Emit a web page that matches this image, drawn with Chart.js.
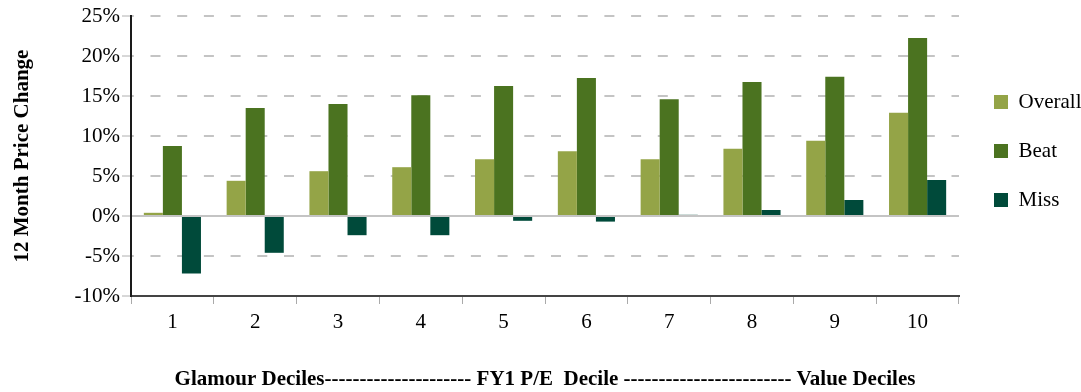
<!DOCTYPE html>
<html lang="en">
<head>
    <meta charset="UTF-8" />
    <title>12 Month Price Change by FY1 P/E Decile</title>
    <script src="https://cdn.jsdelivr.net/npm/chart.js"></script>
    <style>
        body { margin: 0; background: #fff; }
        .wrap { width: 1081px; height: 392px; position: relative; }
    </style>
</head>
<body>
    <div class="wrap"><canvas id="decileChart"></canvas></div>

    <script>
        // Data
        const deciles = ['1', '2', '3', '4', '5', '6', '7', '8', '9', '10'];
        const overall = [0.4, 4.4, 5.6, 6.1, 7.1, 8.1, 7.1, 8.4, 9.4, 12.9];
        const beat = [8.75, 13.5, 14.0, 15.1, 16.25, 17.25, 14.6, 16.75, 17.4, 22.25];
        const miss = [-7.2, -4.6, -2.4, -2.4, -0.6, -0.7, 0.15, 0.75, 2.0, 4.5];
        const seriesNames = ['Overall', 'Beat', 'Miss'];
        const yTickMin = -10, yTickMax = 25, yTickStep = 5;
        const xTitle = 'Glamour Deciles' + '-'.repeat(21) + ' FY1 P/E  Decile ' + '-'.repeat(24) + ' Value Deciles';
        const yTitle = '12 Month Price Change';

        const serif = "'Liberation Serif', 'Times New Roman', serif";
        const gridGrey = '#c4c4c4';

        // small nudge so the legend sits where the original has it
        const legendNudge = {
            id: 'legendNudge',
            afterLayout(chart) {
                const lg = chart.legend;
                if (!lg) return;
                lg.left += 7; lg.right += 7;
                lg.top -= 5; lg.bottom -= 5;
            }
        };

        const ctx = document.getElementById('decileChart').getContext('2d');
        new Chart(ctx, {
            type: 'bar',
            data: {
                labels: deciles,
                datasets: [
                    { label: seriesNames[0], data: overall, backgroundColor: '#94a447', borderWidth: 0 },
                    { label: seriesNames[1], data: beat, backgroundColor: '#4b7320', borderWidth: 0 },
                    { label: seriesNames[2], data: miss, backgroundColor: '#004a3a', borderWidth: 0 }
                ]
            },
            options: {
                responsive: true,
                maintainAspectRatio: false,
                animation: false,
                layout: { padding: { top: 16, right: 0, bottom: 0, left: 0 } },
                datasets: { bar: { barPercentage: 1.0, categoryPercentage: 0.69 } },
                plugins: {
                    tooltip: { enabled: false },
                    legend: {
                        position: 'right',
                        fullSize: false,
                        maxWidth: 122,
                        labels: {
                            boxWidth: 14,
                            boxHeight: 14,
                            padding: 28,
                            color: '#000',
                            font: { family: serif, size: 21 }
                        }
                    }
                },
                scales: {
                    x: {
                        afterFit: (s) => { s.height = 96; },
                        grid: {
                            offset: true,
                            drawOnChartArea: false,
                            drawTicks: true,
                            tickLength: 8,
                            tickColor: '#aaaaaa',
                            tickWidth: 1
                        },
                        border: { display: true, color: '#444444', width: 2 },
                        ticks: { color: '#000', padding: 6, font: { family: serif, size: 21 } },
                        title: {
                            display: true,
                            text: xTitle,
                            color: '#000',
                            padding: { top: 0, bottom: 0 },
                            font: { family: serif, size: 21, weight: 'bold' }
                        }
                    },
                    y: {
                        min: yTickMin,
                        max: yTickMax,
                        afterFit: (s) => { s.width = 131; },
                        grid: {
                            color: (c) => (c.tick && c.tick.value === yTickMin) ? 'rgba(0,0,0,0)' : gridGrey,
                            lineWidth: 2,
                            drawTicks: true,
                            tickLength: 9,
                            tickColor: '#b0b0b0',
                            tickWidth: 1,
                            tickBorderDash: []
                        },
                        border: {
                            display: true,
                            color: '#1a1a1a',
                            width: 2,
                            dash: (c) => (c.tick && c.tick.value === 0) ? [] : [10, 16.7],
                            dashOffset: 8.2
                        },
                        ticks: {
                            stepSize: yTickStep,
                            color: '#000',
                            padding: 2,
                            font: { family: serif, size: 21 },
                            callback: (v) => v + '%'
                        },
                        title: {
                            display: true,
                            text: yTitle,
                            color: '#000',
                            padding: { top: 10, bottom: 0 },
                            font: { family: serif, size: 21, weight: 'bold' }
                        }
                    }
                }
            },
            plugins: [legendNudge]
        });
    </script>
</body>
</html>
